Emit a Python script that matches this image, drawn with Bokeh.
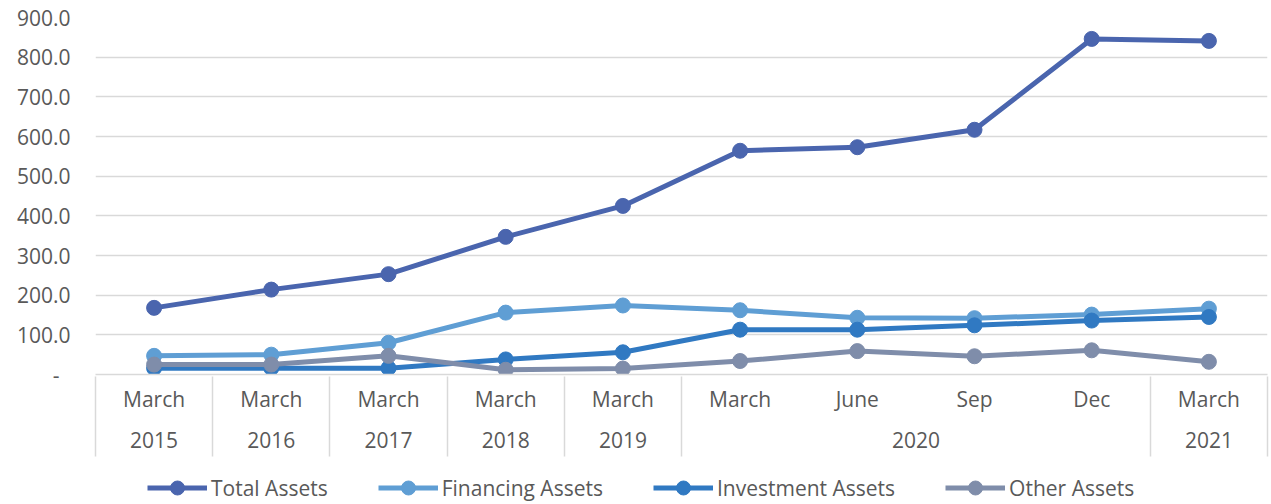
from bokeh.plotting import figure
from bokeh.layouts import column
from bokeh.models import FixedTicker, LinearAxis, Range1d, Legend, LegendItem
from bokeh.embed import file_html
from bokeh.resources import INLINE

# ---- data ----
periods = ["March", "March", "March", "March", "March", "March", "June", "Sep", "Dec", "March"]
years = ["2015", "2016", "2017", "2018", "2019", "2020", "2021"]
year_counts = [1, 1, 1, 1, 1, 4, 1]  # periods per year group
total_assets = [168, 214, 253, 347, 425, 564, 573, 617, 846, 841]
financing_assets = [47, 50, 80, 156, 174, 162, 143, 142, 151, 166]
investment_assets = [16, 16, 16, 38, 56, 113, 113, 124, 136, 145]
other_assets = [25, 25, 47, 12, 15, 34, 59, 46, 61, 32]
y_ticks = [0, 100, 200, 300, 400, 500, 600, 700, 800, 900]

series = [
    ("Total Assets", total_assets, "#4A65AE"),
    ("Financing Assets", financing_assets, "#5F9ED4"),
    ("Investment Assets", investment_assets, "#3079C2"),
    ("Other Assets", other_assets, "#7F8DAA"),
]

FONT = "Open Sans"
FS = "21px"
TXT = "#595959"
GRID = "#d9d9d9"

n = len(periods)
xs = list(range(n))
bounds = [-0.5]
centers = []
start = 0
for c in year_counts:
    centers.append((start + start + c - 1) / 2)
    start += c
    bounds.append(start - 0.5)

p = figure(width=1270, height=463, x_range=Range1d(-0.5, n - 0.5), y_range=Range1d(0, 900),
           output_backend="svg", toolbar_location=None, x_axis_location=None,
           min_border_left=95, min_border_top=17, min_border_right=3, min_border_bottom=89)
p.outline_line_color = None
p.background_fill_color = "white"
p.border_fill_color = "white"

# y axis
yt = FixedTicker(ticks=y_ticks, minor_ticks=[])
p.yaxis.ticker = yt
p.yaxis.major_label_overrides = {v: ("-\u00a0\u00a0" if v == 0 else f"{v:.1f}") for v in y_ticks}
p.yaxis.axis_line_color = None
p.yaxis.major_tick_line_color = None
p.yaxis.minor_tick_line_color = None
p.yaxis.major_label_standoff = 19
p.yaxis.major_label_text_font = FONT
p.yaxis.major_label_text_font_size = FS
p.yaxis.major_label_text_color = TXT
p.ygrid.ticker = yt
p.ygrid.grid_line_color = GRID
p.ygrid.grid_line_width = 1.5
p.xgrid.grid_line_color = None

def style_axis(ax, standoff):
    ax.axis_line_color = None
    ax.major_tick_line_color = None
    ax.minor_tick_line_color = None
    ax.major_tick_out = 0
    ax.major_tick_in = 0
    ax.minor_tick_out = 0
    ax.minor_tick_in = 0
    ax.major_label_standoff = standoff
    ax.major_label_text_font = FONT
    ax.major_label_text_font_size = FS
    ax.major_label_text_color = TXT

# x axis: period row
ax1 = LinearAxis(ticker=FixedTicker(ticks=[float(x) for x in xs], minor_ticks=[]),
                 major_label_overrides={float(x): lab for x, lab in zip(xs, periods)})
style_axis(ax1, 10)
ax1.axis_line_color = GRID
ax1.axis_line_width = 1.5
p.add_layout(ax1, "below")

# x axis: year row
ax2 = LinearAxis(ticker=FixedTicker(ticks=centers, minor_ticks=[]),
                 major_label_overrides={c: y for c, y in zip(centers, years)})
style_axis(ax2, 16)
p.add_layout(ax2, "below")

# separators: ticks pointing up from below the two label rows
ax3 = LinearAxis(ticker=FixedTicker(ticks=bounds, minor_ticks=[]),
                 major_label_overrides={b: "" for b in bounds})
style_axis(ax3, 0)
ax3.major_tick_line_color = GRID
ax3.major_tick_line_width = 1.5
ax3.major_tick_in = 74
ax3.major_tick_out = 6
p.add_layout(ax3, "below")

for name, vals, col in series:
    p.line(xs, vals, line_color=col, line_width=5)
    p.scatter(xs, vals, size=15, fill_color=col, line_color=col)

# legend strip below the chart (its own renderers lie outside its view; only the legend shows)
lg = figure(width=1270, height=40, x_range=Range1d(-0.5, n - 0.5), y_range=Range1d(-2000, -1000),
            output_backend="svg", toolbar_location=None, x_axis_location=None, y_axis_location=None,
            min_border=0)
lg.outline_line_color = None
lg.xgrid.grid_line_color = None
lg.ygrid.grid_line_color = None
items = []
for name, vals, col in series:
    l = lg.line(xs, vals, line_color=col, line_width=5)
    s = lg.scatter(xs, vals, size=15, fill_color=col, line_color=col)
    items.append(LegendItem(label=name, renderers=[l, s]))

legend = Legend(items=items, orientation="horizontal", location=(52, -2),
                glyph_width=60, glyph_height=35, spacing=50, label_standoff=4,
                label_text_font=FONT, label_text_font_size=FS, label_text_color=TXT,
                border_line_color=None, background_fill_alpha=0, padding=0, margin=0)
lg.add_layout(legend, "center")

layout = column(p, lg, spacing=0)
open("out.html", "w").write(file_html(layout, INLINE))
